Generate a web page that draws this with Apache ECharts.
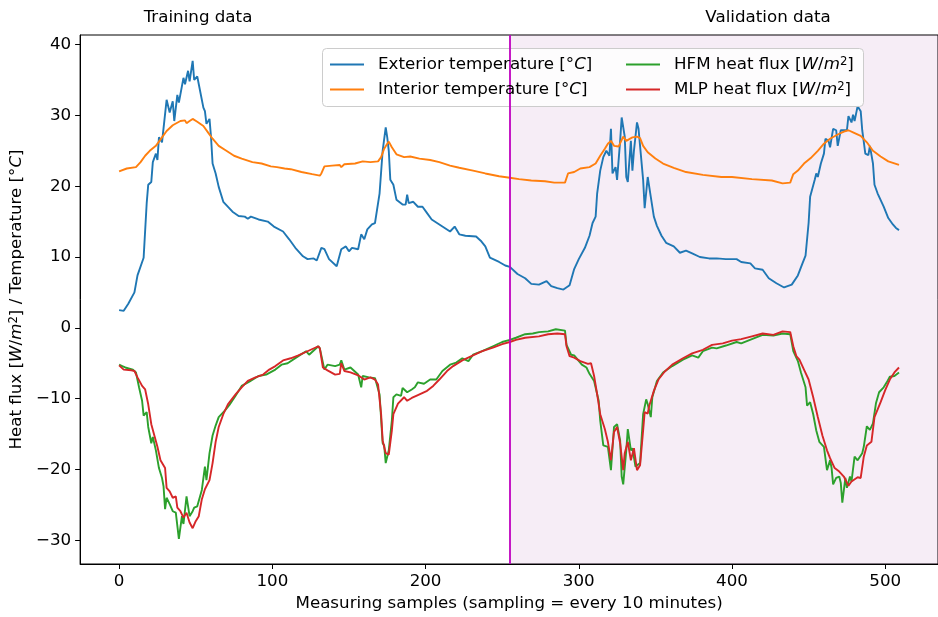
<!DOCTYPE html>
<html><head><meta charset="utf-8">
<script src="https://cdn.jsdelivr.net/npm/echarts@6/dist/echarts.min.js"></script>
<style>html,body{margin:0;padding:0;background:#fff}#c{width:938px;height:617px}</style>
</head><body><div id="c"></div>
<script>
// ---- data ----
const extX=[0,3,6,10,12,16,18,19,21,22,24,25,26,28,31,33,35,36,38,39,42,43,45,46,48,49,51,52,53,55,56,57,59,60,61,63,65,68,74,78,82,84,86,91,97,101,107,111,115,120,123,127,129,132,134,137,142,145,148,150,152,156,158,160,162,165,167,170,172,174,175,176,177,179,181,185,187,188,189,192,195,198,201,204,209,216,219,222,226,233,236,239,242,248,252,255,260,265,269,274,279,282,286,290,294,297,300,304,307,309,311,312,314,316,318,320,321,322,324,325,327,328,330,331,332,334,335,336,338,339,340,342,343,345,347,349,351,354,357,362,366,370,374,379,385,390,396,403,406,412,415,420,424,429,434,439,443,446,448,450,451,454,455,456,458,460,461,463,464,466,468,469,471,473,475,476,478,479,480,482,484,485,486,487,489,490,492,493,495,499,502,505,507,509];
const extT=[2.5,2.4,3.4,5.0,7.4,9.9,17.6,20.2,20.6,23.4,24.6,23.7,26.9,26.2,32.2,30.4,32.0,29.2,32.9,31.8,35.3,34.4,36.3,34.8,37.7,35.0,35.5,34.4,34.6,31.1,30.6,28.8,29.5,26.9,23.2,21.8,19.9,17.8,16.4,15.8,15.7,15.4,15.7,15.3,15.0,14.3,13.6,12.5,11.3,10.1,9.7,9.8,9.5,11.3,11.1,9.7,8.7,11.1,11.5,10.8,11.3,11.1,13.2,12.5,13.9,14.6,14.8,19.0,25.0,28.3,26.9,25.0,20.9,20.2,18.1,17.4,17.4,18.8,17.6,17.8,17.1,17.1,16.2,15.3,14.6,13.6,14.3,13.2,13.0,12.9,12.3,11.5,9.9,9.3,8.8,8.6,7.6,7.0,6.2,6.1,6.6,5.9,5.6,5.4,6.0,8.3,9.7,11.3,13.0,14.8,15.7,19.0,22.2,24.1,25.0,24.3,28.1,21.8,22.7,20.9,26.4,29.7,27.0,21.3,20.6,26.4,22.2,25.0,29.0,28.1,28.3,20.9,16.9,21.3,18.5,15.7,14.4,13.0,12.0,11.5,10.6,10.9,10.5,10.0,9.8,9.8,9.7,9.7,9.3,9.1,8.4,8.2,7.0,6.3,5.7,6.1,7.4,9.1,10.2,14.8,18.5,20.9,21.8,21.3,23.2,24.6,26.7,26.4,25.5,28.1,27.9,25.7,27.9,27.9,27.9,29.9,29.0,30.1,29.2,31.3,30.6,27.9,26.3,24.6,24.4,25.7,23.2,20.2,19.0,17.1,15.5,14.6,14.1,13.8];

const intX=[0,5,11,14,17,20,24,28,31,35,40,43,44,46,48,51,55,58,61,65,70,75,80,87,93,99,103,108,112,119,126,131,132,134,139,144,145,147,154,159,164,169,171,173,175,176,178,181,186,190,196,203,209,216,222,231,239,248,255,261,269,278,284,291,293,297,301,307,311,314,317,319,321,323,326,329,331,335,338,340,342,345,350,355,362,370,381,393,400,413,426,433,438,440,443,447,452,456,460,464,469,473,476,479,484,488,492,497,502,509];
const intT=[22.1,22.5,22.7,23.4,24.3,25.0,25.7,26.9,27.8,28.6,29.2,29.3,28.9,29.2,29.5,29.1,28.5,27.6,26.7,25.7,25.0,24.3,23.9,23.4,23.2,22.8,22.7,22.5,22.4,22.0,21.7,21.5,21.8,22.8,22.9,23.0,22.7,23.1,23.2,23.5,23.4,23.5,24.1,25.3,26.0,26.3,25.5,24.5,24.1,24.2,23.9,23.7,23.4,22.9,22.6,22.2,21.8,21.4,21.2,21.0,20.8,20.7,20.5,20.5,21.8,22.0,22.5,22.7,23.2,24.3,25.3,26.0,26.4,25.7,25.6,27.0,26.4,26.9,27.0,26.8,25.7,24.8,23.9,23.2,22.6,22.0,21.6,21.3,21.3,21.0,20.8,20.4,20.5,21.7,22.2,23.2,24.1,25.0,26.0,26.7,27.3,27.7,27.9,27.6,27.1,26.2,25.0,24.2,23.5,23.0];

const hfmX=[0,2,4,9,11,13,15,16,18,19,21,22,24,26,28,29,30,31,33,35,37,39,41,42,44,46,48,49,51,54,56,57,59,61,63,65,69,72,76,80,85,91,96,102,106,110,117,122,124,130,131,134,136,141,144,145,147,151,156,158,159,163,167,170,172,173,174,176,178,179,181,184,185,188,191,193,195,199,203,207,211,216,220,224,228,231,237,244,250,255,259,265,270,274,280,285,291,292,295,297,302,305,307,310,313,314,316,319,321,323,325,327,328,329,331,332,334,335,337,338,340,342,344,345,347,348,351,355,361,368,374,378,381,387,390,396,403,406,413,420,427,433,438,440,443,445,448,449,451,453,455,457,460,462,464,465,466,468,470,471,472,474,475,477,478,480,482,485,486,488,490,492,494,496,499,501,503,506,509];
const hfmQ=[-5.2,-5.4,-5.6,-5.9,-6.3,-8.4,-10.3,-12.4,-11.9,-14.0,-16.3,-15.4,-17.3,-19.8,-21.2,-22.4,-25.6,-24.0,-24.9,-25.9,-26.1,-29.8,-26.6,-27.7,-23.8,-26.6,-25.9,-25.4,-25.2,-22.9,-19.6,-21.5,-17.7,-15.2,-13.8,-12.6,-11.7,-10.9,-9.6,-8.2,-7.6,-6.8,-6.6,-5.9,-5.2,-5.0,-4.0,-3.3,-3.8,-2.6,-2.9,-5.9,-5.2,-5.4,-5.2,-4.6,-5.9,-5.6,-6.6,-8.4,-6.8,-7.0,-7.1,-9.4,-16.3,-16.6,-19.1,-17.3,-13.1,-9.8,-9.4,-9.6,-8.5,-9.1,-8.7,-8.4,-7.7,-7.9,-7.3,-7.3,-6.1,-5.2,-4.9,-4.3,-4.7,-3.8,-3.3,-2.6,-2.0,-1.7,-1.4,-0.9,-0.8,-0.6,-0.5,-0.2,-0.4,-2.4,-3.8,-3.9,-5.2,-5.6,-6.5,-7.5,-10.3,-13.1,-16.6,-16.8,-20.1,-14.0,-13.6,-15.9,-21.0,-22.1,-17.3,-14.3,-17.3,-17.0,-19.6,-19.6,-19.1,-12.2,-10.1,-10.8,-12.6,-9.8,-7.5,-6.3,-5.4,-4.5,-3.9,-4.2,-3.3,-2.8,-2.9,-2.5,-2.0,-2.2,-1.6,-1.0,-1.1,-0.8,-0.9,-3.3,-4.7,-6.3,-8.4,-11.0,-10.5,-12.2,-14.5,-16.1,-16.8,-20.1,-18.7,-19.8,-22.1,-21.2,-21.0,-21.9,-24.7,-21.2,-22.6,-21.0,-21.7,-18.2,-18.7,-17.7,-16.8,-13.9,-14.4,-13.5,-10.6,-9.1,-8.4,-7.7,-6.9,-6.8,-6.3];

const mlpX=[0,3,8,10,12,15,17,19,21,23,25,27,30,31,33,35,37,38,40,42,44,46,48,50,52,54,56,59,61,63,65,68,71,76,80,84,89,94,98,102,107,112,117,124,130,131,133,136,141,144,145,147,151,156,160,164,167,169,171,172,174,176,178,179,182,186,188,191,195,201,205,209,214,218,224,231,237,244,250,255,259,265,274,280,286,291,292,294,297,301,306,308,310,312,314,317,319,321,323,325,327,329,330,332,334,336,338,340,342,343,345,346,349,352,356,361,368,374,381,387,394,400,406,413,420,427,433,438,440,442,444,447,450,453,456,459,462,464,467,470,473,476,478,482,484,486,488,491,493,497,500,503,506,509];
const mlpQ=[-5.3,-5.9,-6.0,-6.1,-7.0,-8.2,-8.7,-10.8,-13.6,-15.2,-16.8,-18.7,-19.8,-22.6,-23.1,-24.0,-23.8,-25.4,-25.9,-26.8,-26.1,-27.5,-28.3,-27.3,-26.6,-24.2,-22.8,-21.5,-19.1,-16.1,-14.0,-12.2,-10.8,-9.4,-8.4,-7.5,-7.0,-6.6,-5.9,-5.4,-4.6,-4.3,-3.9,-3.2,-2.6,-2.9,-5.6,-6.0,-6.6,-6.5,-5.0,-6.1,-6.3,-6.7,-7.3,-7.0,-7.3,-8.0,-12.2,-15.9,-17.7,-17.9,-14.5,-12.2,-10.7,-9.8,-10.3,-9.9,-9.5,-8.9,-8.2,-7.3,-6.1,-5.4,-4.6,-3.9,-3.3,-2.8,-2.3,-2.0,-1.7,-1.4,-1.2,-0.9,-0.8,-0.9,-2.6,-4.0,-4.2,-4.7,-5.1,-5.0,-6.8,-9.4,-12.2,-14.3,-16.1,-18.7,-14.7,-14.0,-16.3,-20.1,-17.7,-16.1,-18.7,-17.0,-20.1,-19.4,-14.5,-11.9,-12.1,-11.0,-8.9,-7.3,-6.2,-5.2,-4.3,-3.6,-3.1,-2.4,-2.2,-1.8,-1.6,-1.2,-0.8,-1.0,-0.5,-0.6,-2.6,-4.0,-4.5,-5.9,-7.3,-9.8,-12.6,-15.2,-17.3,-18.4,-19.8,-20.3,-21.0,-22.3,-21.7,-21.1,-21.2,-18.2,-16.6,-16.1,-12.6,-10.5,-8.8,-7.3,-6.3,-5.6];

const xTicks=[0,100,200,300,400,500];
const yTicks=[-30,-20,-10,0,10,20,30,40];
const splitSample=255;
const xRange=[-25.45,534.45];
const yRange=[-33.35,41.35];

// ---- chart ----
const FF='DejaVu Sans';
const FS=16.7;
const pairs=(xs,ys)=>xs.map((x,i)=>[x,ys[i]]);
const fmt=v=>v<0?'\u2212'+(-v):String(v);
const chart=echarts.init(document.getElementById('c'),null,{renderer:'canvas'});
const legendNames={
 'Exterior temperature':'{n|Exterior temperature [°}{i|C}{n|]}',
 'Interior temperature':'{n|Interior temperature [°}{i|C}{n|]}',
 'HFM heat flux':'{n|HFM heat flux [}{i|W}{n|/}{i|m}{s|2}{n|]}',
 'MLP heat flux':'{n|MLP heat flux [}{i|W}{n|/}{i|m}{s|2}{n|]}'
};
const rich={
 n:{fontFamily:FF,fontSize:FS,color:'#000',lineHeight:17},
 i:{fontFamily:FF,fontSize:FS,fontStyle:'italic',color:'#000',lineHeight:17},
 s:{fontFamily:FF,fontSize:11.7,color:'#000',verticalAlign:'top',lineHeight:8}
};
const legendBase={
 orient:'vertical',top:56,padding:0,itemWidth:34,itemHeight:2,icon:'rect',itemGap:8,
 formatter:n=>legendNames[n],
 textStyle:{fontFamily:FF,fontSize:FS,color:'#000',padding:[0,0,0,9],rich:rich},
 z:6,selectedMode:false
};
const lineSeries=(name,color,data,z)=>({
 name,type:'line',data,showSymbol:false,symbol:'none',smooth:false,
 lineStyle:{color,width:1.9},itemStyle:{color},z,animation:false,silent:true
});
chart.setOption({
 animation:false,
 backgroundColor:'#fff',
 grid:{left:79,right:-11,top:35,bottom:50,show:true,borderColor:'#000',borderWidth:1,backgroundColor:'transparent'},
 xAxis:{type:'value',min:xRange[0],max:xRange[1],
  splitLine:{show:false},
  axisLine:{show:true,onZero:false,lineStyle:{color:'#000',width:1}},
  axisTick:{show:true,length:5,inside:false,lineStyle:{color:'#000',width:1},customValues:xTicks},
  axisLabel:{customValues:xTicks,formatter:fmt,fontFamily:FF,fontSize:FS,color:'#000',margin:9},
  name:'Measuring samples (sampling = every 10 minutes)',nameLocation:'middle',nameGap:31,
  nameTextStyle:{fontFamily:FF,fontSize:FS,color:'#000'}
 },
 yAxis:{type:'value',min:yRange[0],max:yRange[1],
  splitLine:{show:false},
  axisLine:{show:true,onZero:false,lineStyle:{color:'#000',width:1}},
  axisTick:{show:true,length:5,inside:false,lineStyle:{color:'#000',width:1},customValues:yTicks},
  axisLabel:{customValues:yTicks,formatter:fmt,fontFamily:FF,fontSize:FS,color:'#000',margin:9},
  name:'{n|Heat flux [}{i|W}{n|/}{i|m}{s|2}{n|] / Temperature [°}{i|C}{n|]}',
  nameLocation:'middle',nameGap:47,nameRotate:90,
  nameTextStyle:{fontFamily:FF,fontSize:FS,color:'#000',rich:rich}
 },
 legend:[
  Object.assign({},legendBase,{left:330,data:['Exterior temperature','Interior temperature']}),
  Object.assign({},legendBase,{left:626,data:['HFM heat flux','MLP heat flux']})
 ],
 graphic:[
  {type:'rect',z:5,shape:{x:322.5,y:48.5,width:541,height:58,r:4},style:{fill:'rgba(255,255,255,0.8)',stroke:'#cccccc',lineWidth:1}},
  {type:'text',z:5,x:198,y:18,style:{text:'Training data',font:FS+'px "DejaVu Sans"',fill:'#000',textAlign:'center',textVerticalAlign:'middle'}},
  {type:'text',z:5,x:768,y:18,style:{text:'Validation data',font:FS+'px "DejaVu Sans"',fill:'#000',textAlign:'center',textVerticalAlign:'middle'}}
 ],
 series:[
  {name:'split',type:'line',data:[[splitSample,0]],showSymbol:false,symbol:'none',lineStyle:{opacity:0},z:1,silent:true,
   markArea:{silent:true,itemStyle:{color:'rgba(128,0,128,0.07)'},data:[[{xAxis:splitSample},{xAxis:xRange[1]}]]},
   markLine:{silent:true,symbol:'none',label:{show:false},lineStyle:{color:'#bf00bf',width:1.8,type:'solid'},data:[{xAxis:splitSample}]}
  },
  lineSeries('Exterior temperature','#1f77b4',pairs(extX,extT),2),
  lineSeries('Interior temperature','#ff7f0e',pairs(intX,intT),2),
  lineSeries('HFM heat flux','#2ca02c',pairs(hfmX,hfmQ),2),
  lineSeries('MLP heat flux','#d62728',pairs(mlpX,mlpQ),2)
 ]
});
</script></body></html>
